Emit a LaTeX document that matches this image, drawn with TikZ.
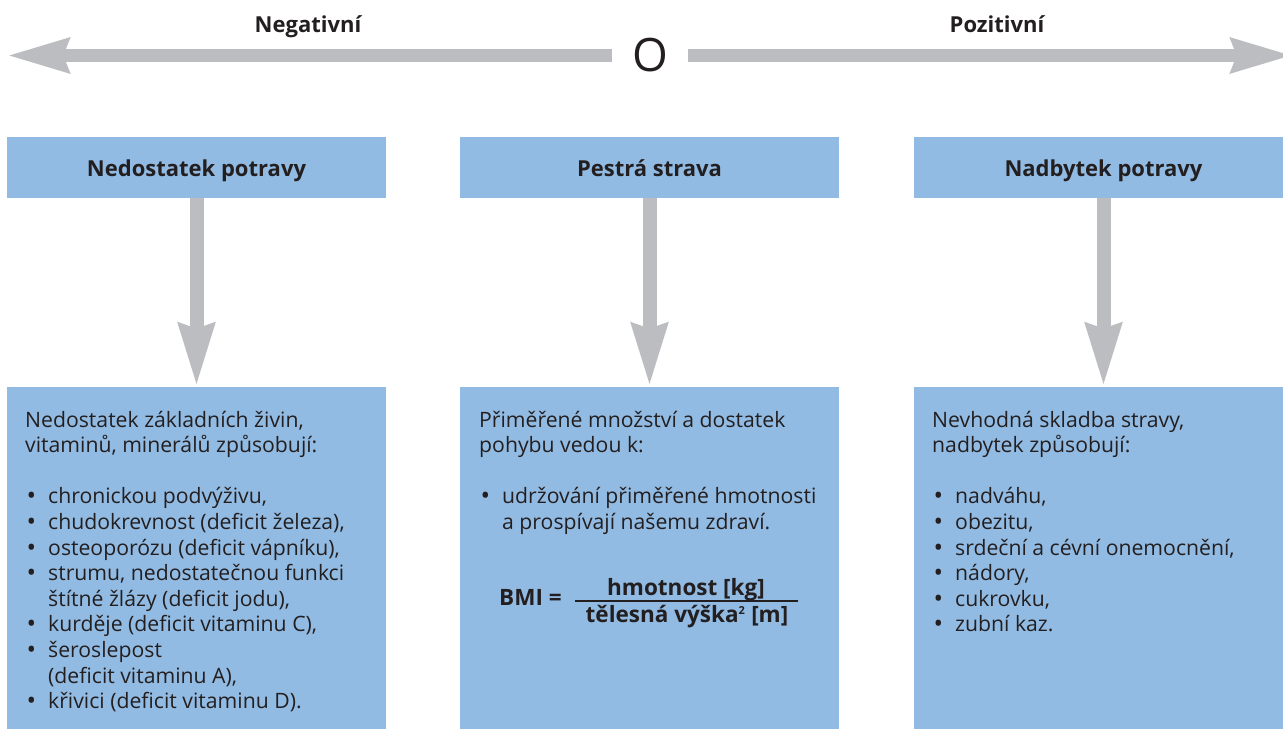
\documentclass[tikz,border=0pt]{standalone}
\usepackage{fontspec}
\setmainfont{Open Sans}
\usetikzlibrary{arrows.meta}
\definecolor{boxblue}{HTML}{92BBE3}
\definecolor{arrowgrey}{HTML}{BCBDC0}
\definecolor{txt}{HTML}{231F20}
\newcommand{\bulitem}{\makebox[23pt][l]{\hspace*{1.5pt}\raisebox{-0.1ex}{\scalebox{1.2}{\textbullet}}}}
\newcommand{\bulcont}{\hspace*{23pt}}
\newcommand{\bodyfont}{\fontsize{21.2}{25.6}\selectfont}
\begin{document}
\begin{tikzpicture}[x=1pt,y=-1pt,
  hdrbox/.style={fill=boxblue, draw=none, minimum width=379pt, minimum height=61pt, inner sep=0pt,
     font=\bfseries\fontsize{22}{24}\selectfont, text=txt, text height=22pt, text depth=3.6pt},
  bodybox/.style={fill=boxblue, draw=none, minimum width=379pt, minimum height=342pt, inner sep=0pt},
  bodytext/.style={anchor=base west, inner sep=0pt, text=txt, font=\bodyfont},
  toplabel/.style={anchor=base, inner sep=0pt, text=txt, font=\bfseries\fontsize{22}{24}\selectfont},
  fatarrow/.style={draw=arrowgrey, line width=14pt, -{Stealth[length=62pt, width=34pt, inset=4pt, fill=arrowgrey]}},
  axisarrow/.style={draw=arrowgrey, line width=13pt, -{Stealth[length=61pt, width=33pt, inset=5pt, fill=arrowgrey]}},
  bmi/.style={anchor=base, inner sep=0pt, text=txt, font=\bfseries\fontsize{22.5}{24}\selectfont}
]
\useasboundingbox[fill=white] (0,0) rectangle (1283,730);

% axis
\node[inner xsep=20pt, inner ysep=0pt, text=txt, font=\fontsize{46}{50}\selectfont] (zero) at (650,55.5) {O};
\coordinate (negend) at (7,55.5);
\coordinate (posend) at (1293,55.5);
\draw[axisarrow] (zero.west) -- (negend);
\draw[axisarrow] (zero.east) -- (posend);
\node[toplabel] (neg) at (308,33) {Negativní};
\node[toplabel] (pos) at (997,33) {Pozitivní};

% header boxes
\node[hdrbox] (h1) at (196.5,167.5) {Nedostatek potravy};
\node[hdrbox] (h2) at (649.5,167.5) {Pestrá strava};
\node[hdrbox] (h3) at (1103.5,167.5) {Nadbytek potravy};

% body boxes
\node[bodybox] (b1) at (196.5,558) {};
\node[bodybox] (b2) at (649.5,558) {};
\node[bodybox] (b3) at (1103.5,558) {};

% vertical arrows
\draw[fatarrow] (h1.south) -- (b1.north);
\draw[fatarrow] (h2.south) -- (b2.north);
\draw[fatarrow] (h3.south) -- (b3.north);

% texts
\node[bodytext] (t1) at (25,427) {\parbox[t]{360pt}{\raggedright
Nedostatek základních živin,\\
vitaminů, minerálů způsobují:\\[25.6pt]
\bulitem chronickou podvýživu,\\
\bulitem chudokrevnost (deficit železa),\\
\bulitem osteoporózu (deficit vápníku),\\
\bulitem strumu, nedostatečnou funkci\\
\bulcont štítné žlázy (deficit jodu),\\
\bulitem kurděje (deficit vitaminu C),\\
\bulitem šeroslepost\\
\bulcont (deficit vitaminu A),\\
\bulitem křivici (deficit vitaminu D).}};

\node[bodytext] (t2) at (479,427) {\parbox[t]{360pt}{\raggedright
Přiměřené množství a dostatek\\
pohybu vedou k:\\[25.6pt]
\bulitem udržování přiměřené hmotnosti\\
\bulcont a prospívají našemu zdraví.}};

\node[bodytext] (t3) at (932,427) {\parbox[t]{360pt}{\raggedright
Nevhodná skladba stravy,\\
nadbytek způsobují:\\[25.6pt]
\bulitem nadváhu,\\
\bulitem obezitu,\\
\bulitem srdeční a cévní onemocnění,\\
\bulitem nádory,\\
\bulitem cukrovku,\\
\bulitem zubní kaz.}};

% BMI formula
\node[bmi, anchor=base west] (bmilabel) at (499,605) {BMI =};
\node[bmi] (numer) at (686,595) {hmotnost [kg]};
\node[bmi] (denom) at (687,622) {tělesná výška\textsuperscript{\fontsize{11}{11}\selectfont 2} [m]};
\coordinate (barl) at (575,601);
\coordinate (barr) at (798,601);
\draw[txt, line width=1.3pt] (barl) -- (barr);
\end{tikzpicture}
\end{document}
